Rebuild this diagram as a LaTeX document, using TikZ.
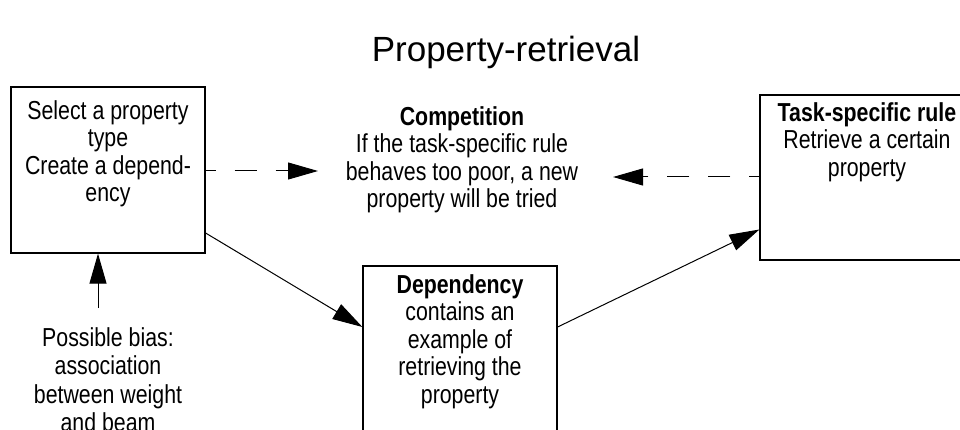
\documentclass[tikz,border=0pt]{standalone}
\usepackage{fontspec}
\setmainfont{Liberation Sans}[FakeStretch=0.82]
\newfontfamily\titlefont{Liberation Sans}
\usetikzlibrary{arrows.meta,calc}
\tikzset{
  box/.style={draw, line width=1.2pt, inner sep=0pt, rectangle},
  txt/.style={inner sep=0pt, align=center, anchor=north, font=\fontsize{26}{27.5}\selectfont},
  arr/.style={line width=1pt, -{Triangle[length=30pt,width=17pt]}},
  darr/.style={arr, dash pattern=on 22pt off 19pt, dash phase=12pt},
}
\newcommand{\fl}{\rule{0pt}{20pt}}
\begin{document}
\begin{tikzpicture}[x=1pt,y=-1pt]
\useasboundingbox (0,0) rectangle (960,430);
\clip (0,0) rectangle (960,430);
\node[inner sep=0pt, anchor=base, font=\titlefont\fontsize{35}{40}\selectfont] (title) at (506,62) {Property-retrieval};
% boxes
\node[box, minimum width=194pt, minimum height=166pt] (selbox) at (108,170) {};
\node[box, minimum width=194pt, minimum height=174pt] (depbox) at (460,353) {};
\node[box, minimum width=214pt, minimum height=165pt] (taskbox) at (867,177.5) {};
% texts
\node[txt] (seltxt) at (108,99) {\fl Select a property\\type\\Create a depend-\\ency};
\node[txt] (taskttxt) at (867,101) {\fl\textbf{Task-specific rule}\\Retrieve a certain\\property};
\node[txt] (comptxt) at (462,105) {\fl\textbf{Competition}\\If the task-specific rule\\behaves too poor, a new\\property will be tried};
\node[txt] (deptxt) at (460,273) {\fl\textbf{Dependency}\\contains an\\example of\\retrieving the\\property};
\node[txt, font=\fontsize{26}{28.5}\selectfont] (biastxt) at (108,326) {\fl Possible bias:\\association\\between weight\\and beam};
% connectors
\coordinate (tipR) at (318,171);
\coordinate (tipL) at (613,177);
\coordinate (biasTop) at (98,308);
\draw[darr] (selbox.east |- tipR) -- (tipR);
\draw[darr] (taskbox.west |- tipL) -- (tipL);
\draw[arr] ([yshift=-63pt]selbox.east) -- ([yshift=26pt]depbox.west);
\draw[arr] ([yshift=26pt]depbox.east) -- ([yshift=-52pt]taskbox.west);
\draw[arr] (biasTop) -- (biasTop |- selbox.south);
\end{tikzpicture}
\end{document}
